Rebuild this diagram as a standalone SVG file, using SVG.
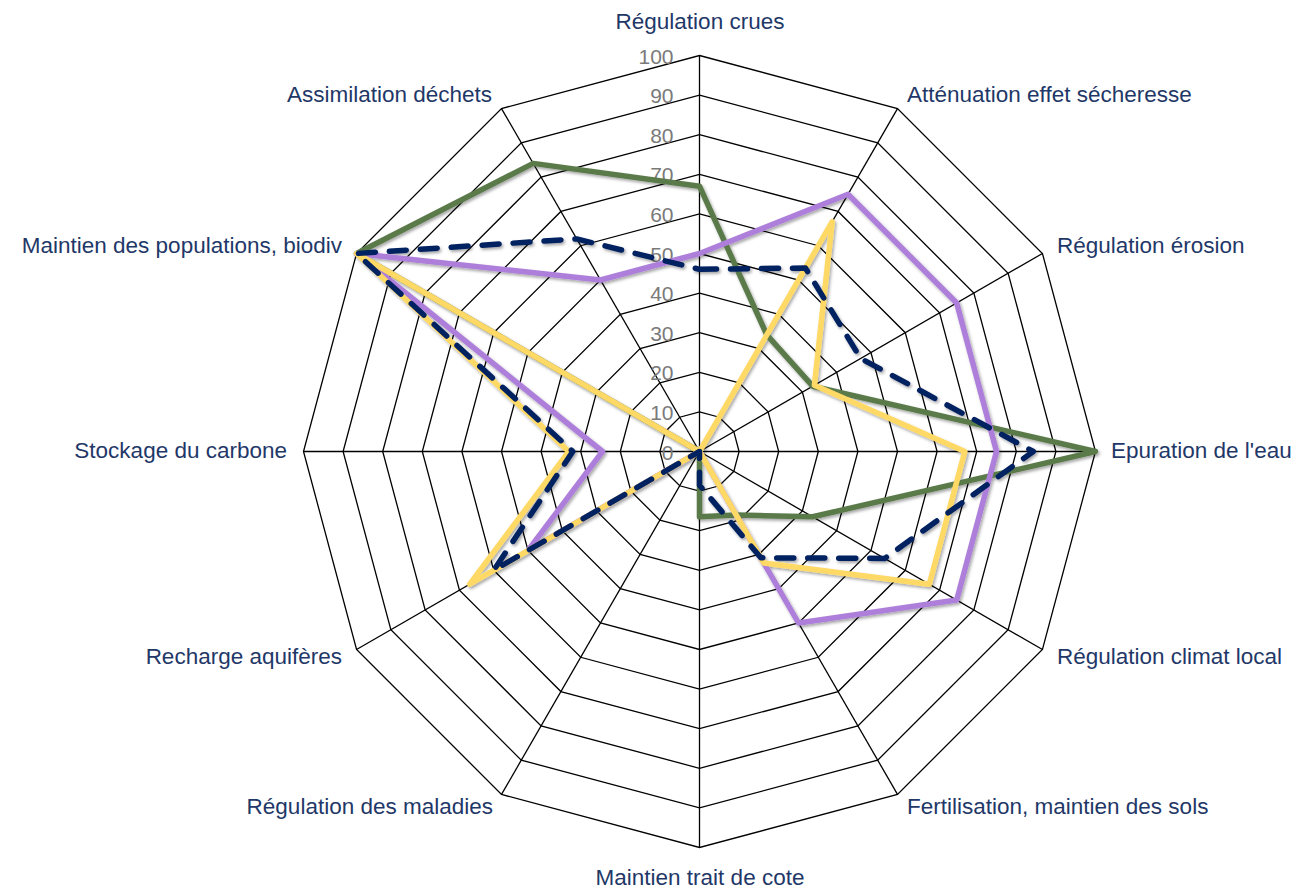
<svg xmlns="http://www.w3.org/2000/svg" width="1299" height="891" viewBox="0 0 1299 891">
<style>
.ring{fill:none;stroke:#000;stroke-width:1.3;stroke-linejoin:miter}
.spoke{stroke:#000;stroke-width:1.3}
.tick{font-family:"Liberation Sans",Arial,sans-serif;font-size:21px;fill:#7A7A7A;text-anchor:end}
.lbl{font-family:"Liberation Sans",Arial,sans-serif;font-size:22.5px;fill:#1F3868}
.s{fill:none;stroke-width:5.5;stroke-linejoin:round;stroke-linecap:round}
</style>
<defs>
<filter id="sh" x="-10%" y="-10%" width="120%" height="120%">
<feDropShadow dx="1.5" dy="2" stdDeviation="1.6" flood-color="#000" flood-opacity="0.35"/>
</filter>
</defs>
<rect width="1299" height="891" fill="#fff"/>
<g id="grid" transform="translate(699.5,451.5)">
<polygon class="ring" points="0,-39.6 19.8,-34.29 34.29,-19.8 39.6,0 34.29,19.8 19.8,34.29 0,39.6 -19.8,34.29 -34.29,19.8 -39.6,0 -34.29,-19.8 -19.8,-34.29"/>
<polygon class="ring" points="0,-79.2 39.6,-68.59 68.59,-39.6 79.2,0 68.59,39.6 39.6,68.59 0,79.2 -39.6,68.59 -68.59,39.6 -79.2,0 -68.59,-39.6 -39.6,-68.59"/>
<polygon class="ring" points="0,-118.8 59.4,-102.88 102.88,-59.4 118.8,0 102.88,59.4 59.4,102.88 0,118.8 -59.4,102.88 -102.88,59.4 -118.8,0 -102.88,-59.4 -59.4,-102.88"/>
<polygon class="ring" points="0,-158.4 79.2,-137.17 137.17,-79.2 158.4,0 137.17,79.2 79.2,137.17 0,158.4 -79.2,137.17 -137.17,79.2 -158.4,0 -137.17,-79.2 -79.2,-137.17"/>
<polygon class="ring" points="0,-198 99,-171.47 171.47,-99 198,0 171.47,99 99,171.47 0,198 -99,171.47 -171.47,99 -198,0 -171.47,-99 -99,-171.47"/>
<polygon class="ring" points="0,-237.6 118.8,-205.76 205.76,-118.8 237.6,0 205.76,118.8 118.8,205.76 0,237.6 -118.8,205.76 -205.76,118.8 -237.6,0 -205.76,-118.8 -118.8,-205.76"/>
<polygon class="ring" points="0,-277.2 138.6,-240.06 240.06,-138.6 277.2,0 240.06,138.6 138.6,240.06 0,277.2 -138.6,240.06 -240.06,138.6 -277.2,0 -240.06,-138.6 -138.6,-240.06"/>
<polygon class="ring" points="0,-316.8 158.4,-274.35 274.35,-158.4 316.8,0 274.35,158.4 158.4,274.35 0,316.8 -158.4,274.35 -274.35,158.4 -316.8,0 -274.35,-158.4 -158.4,-274.35"/>
<polygon class="ring" points="0,-356.4 178.2,-308.64 308.64,-178.2 356.4,0 308.64,178.2 178.2,308.64 0,356.4 -178.2,308.64 -308.64,178.2 -356.4,0 -308.64,-178.2 -178.2,-308.64"/>
<polygon class="ring" points="0,-396 198,-342.94 342.94,-198 396,0 342.94,198 198,342.94 0,396 -198,342.94 -342.94,198 -396,0 -342.94,-198 -198,-342.94"/>
<line class="spoke" x1="0" y1="0" x2="0" y2="-396"/>
<line class="spoke" x1="0" y1="0" x2="198" y2="-342.94"/>
<line class="spoke" x1="0" y1="0" x2="342.94" y2="-198"/>
<line class="spoke" x1="0" y1="0" x2="396" y2="0"/>
<line class="spoke" x1="0" y1="0" x2="342.94" y2="198"/>
<line class="spoke" x1="0" y1="0" x2="198" y2="342.94"/>
<line class="spoke" x1="0" y1="0" x2="0" y2="396"/>
<line class="spoke" x1="0" y1="0" x2="-198" y2="342.94"/>
<line class="spoke" x1="0" y1="0" x2="-342.94" y2="198"/>
<line class="spoke" x1="0" y1="0" x2="-396" y2="0"/>
<line class="spoke" x1="0" y1="0" x2="-342.94" y2="-198"/>
<line class="spoke" x1="0" y1="0" x2="-198" y2="-342.94"/>
</g>
<g id="ticks">
<text class="tick" x="673.5" y="459.5">0</text>
<text class="tick" x="673.5" y="419.9">10</text>
<text class="tick" x="673.5" y="380.3">20</text>
<text class="tick" x="673.5" y="340.7">30</text>
<text class="tick" x="673.5" y="301.1">40</text>
<text class="tick" x="673.5" y="261.5">50</text>
<text class="tick" x="673.5" y="221.9">60</text>
<text class="tick" x="673.5" y="182.3">70</text>
<text class="tick" x="673.5" y="142.7">80</text>
<text class="tick" x="673.5" y="103.1">90</text>
<text class="tick" x="673.5" y="63.5">100</text>
</g>
<g id="connectors" transform="translate(699.5,451.5)" filter="url(#sh)">
<polygon id="series-green" class="s" stroke="#5A7A4A" points="0,-265.3 67.3,-116.6 113.2,-65.3 396,0 113.2,65.3 36.6,63.5 0,65.3 0,0 0,0 0,0 -342.94,-198 -166.3,-288.1"/>
<polygon id="series-purple" class="s" stroke="#AE7FDA" points="0,-198 148.5,-257.2 257.2,-148.5 297,0 257.2,148.5 99,171.5 0,0 0,0 -171.5,99 -97,0 -342.94,-198 -99,-171.5"/>
<polygon id="series-yellow" class="s" stroke="#FFD966" points="0,0 132.7,-229.8 114.9,-66.3 265.3,0 229.8,132.7 64.4,111.5 0,0 0,0 -229.8,132.7 -130.7,0 -342.94,-198 0,0"/>
<polygon id="series-navy" class="s" stroke="#002060" stroke-width="6" stroke-dasharray="17 14" points="0,-182.2 105.9,-183.5 161.2,-93.1 333.8,0 185.2,106.9 61.4,106.3 0,33.7 0,0 -205.8,118.8 -126.7,0 -342.94,-198 -122.8,-212.6"/>
</g>
<g id="labels">
<g id="n-crues"><text class="lbl" x="700" y="29" text-anchor="middle">Régulation crues</text></g>
<g id="n-attenuation"><text class="lbl" x="907" y="102">Atténuation effet sécheresse</text></g>
<g id="n-erosion"><text class="lbl" x="1057" y="252.5">Régulation érosion</text></g>
<g id="n-epuration"><text class="lbl" x="1111" y="457.5">Epuration de l'eau</text></g>
<g id="n-climat"><text class="lbl" x="1057" y="663.5">Régulation climat local</text></g>
<g id="n-fertilisation"><text class="lbl" x="907" y="813.5">Fertilisation, maintien des sols</text></g>
<g id="n-trait"><text class="lbl" x="700" y="885" text-anchor="middle">Maintien trait de cote</text></g>
<g id="n-maladies"><text class="lbl" x="493" y="813.5" text-anchor="end">Régulation des maladies</text></g>
<g id="n-recharge"><text class="lbl" x="342" y="663.5" text-anchor="end">Recharge aquifères</text></g>
<g id="n-stockage"><text class="lbl" x="287" y="457.5" text-anchor="end">Stockage du carbone</text></g>
<g id="n-populations"><text class="lbl" x="342" y="252.5" text-anchor="end">Maintien des populations, biodiv</text></g>
<g id="n-dechets"><text class="lbl" x="492" y="102" text-anchor="end">Assimilation déchets</text></g>
</g>
</svg>
